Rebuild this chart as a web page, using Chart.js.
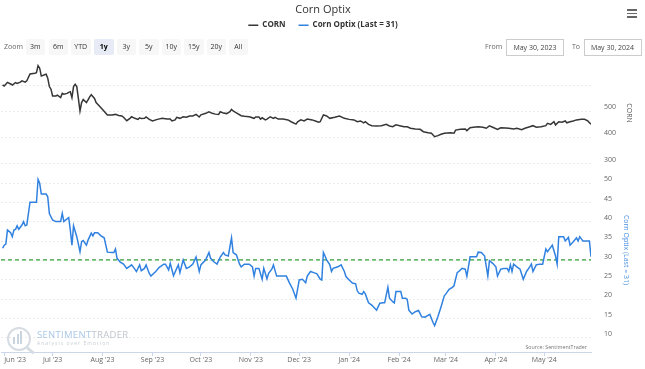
<!DOCTYPE html>
<html><head><meta charset="utf-8">
<script src="https://cdn.jsdelivr.net/npm/chart.js@4.4.1/dist/chart.umd.min.js"></script>
<style>
html,body{margin:0;padding:0;background:#fff;}
#wrap{position:relative;width:645px;height:369px;overflow:hidden;font-family:'Open Sans',sans-serif;}
#c{position:absolute;left:0;top:0;}
.btn{position:absolute;top:39px;height:16px;line-height:16px;width:19.5px;text-align:center;font-size:7px;color:#333;background:#f7f7f7;border-radius:2px;}
.btn.sel{background:#e6ebf5;font-weight:bold;color:#000;}
.lbl{position:absolute;top:39px;height:16px;line-height:16px;font-size:7px;color:#666;white-space:nowrap;}
.date{position:absolute;top:39px;height:15px;line-height:15px;width:56px;border:1px solid #ccc;font-size:7px;color:#444;text-align:center;background:#fff;white-space:nowrap;}
.bar{position:absolute;left:627px;width:10px;height:1.6px;background:#666;}
.ytitle{position:absolute;font-size:7px;transform:translate(-50%,-50%) rotate(90deg);white-space:nowrap;}
</style></head>
<body>
<div id="wrap">
<canvas id="c" width="645" height="369"></canvas>
<div class="bar" style="top:9px"></div><div class="bar" style="top:12.6px"></div><div class="bar" style="top:16.2px"></div>
<div class="lbl" style="left:4px">Zoom</div>
<div class="btn" style="left:25.5px">3m</div>
<div class="btn" style="left:48.5px">6m</div>
<div class="btn" style="left:71px">YTD</div>
<div class="btn sel" style="left:94px">1y</div>
<div class="btn" style="left:116.5px">3y</div>
<div class="btn" style="left:139px">5y</div>
<div class="btn" style="left:161.5px">10y</div>
<div class="btn" style="left:184px">15y</div>
<div class="btn" style="left:206.5px">20y</div>
<div class="btn" style="left:228.5px">All</div>
<div class="lbl" style="left:485px">From</div>
<div class="date" style="left:506px">May 30, 2023</div>
<div class="lbl" style="left:572px">To</div>
<div class="date" style="left:583.5px">May 30, 2024</div>
<div class="ytitle" style="left:629px;top:113px;color:#555">CORN</div>
<div class="ytitle" style="left:626px;top:250px;color:#4a90e2">Corn Optix (Last = 31)</div>
<div style="position:absolute;left:7px;top:327px;width:20px;height:20px;border:2.5px solid #d6dce2;border-radius:50%;"></div>
<div style="position:absolute;left:13px;top:337px;width:2px;height:7px;background:#c9d4de"></div>
<div style="position:absolute;left:16.5px;top:334px;width:2px;height:10px;background:#c9d4de"></div>
<div style="position:absolute;left:20px;top:331px;width:2px;height:13px;background:#c9d4de"></div>
<div style="position:absolute;left:26px;top:349px;width:9px;height:3px;background:#d6dce2;transform:rotate(40deg);"></div>
<div style="position:absolute;left:37px;top:328px;font-size:9.5px;letter-spacing:0.3px;white-space:nowrap;"><span style="color:#a9c8e8">SENTIMENT</span><span style="color:#bfc6cd">TRADER</span></div>
<div style="position:absolute;left:37px;top:340px;font-size:5px;letter-spacing:1.05px;color:#c8cfd6;white-space:nowrap;">Analysis over Emotion</div>
<div style="position:absolute;right:58px;top:343px;font-size:5.3px;color:#777;white-space:nowrap;">Source: SentimentTrader</div>
</div>
<script>
// Days after 2023-05-30 (x positions are dates)
const cornDays = [1,2,4,6,7,9,10,12,13,15,16,18,21,22,23,24,25,27,28,29,30,31,32,34,35,37,38,39,41,42,43,44,45,46,47,48,49,50,51,53,54,55,56,58,59,61,63,66,69,71,73,75,76,78,80,81,83,85,86,87,89,90,92,94,97,100,103,105,106,108,109,111,113,115,117,119,121,123,124,127,129,131,133,135,136,138,140,142,143,144,146,149,151,154,157,158,160,161,162,164,165,167,169,170,172,175,178,180,183,184,186,188,190,193,195,197,198,200,202,204,207,210,213,216,219,221,223,225,226,228,230,233,236,239,241,243,245,248,250,252,254,257,260,262,265,267,269,271,273,275,279,281,282,285,288,289,291,293,296,299,301,303,305,308,310,313,315,318,320,323,325,328,330,332,335,338,339,341,343,344,346,348,350,351,353,355,357,360,362,364,366];
const cornValues = [600,596,610,604,600,609,606,611,616,611,616,642,645,647,674,664,634,639,641,626,594,584,558,558,561,552,568,565,568,572,574,552,594,603,594,549,501,533,545,533,543,555,563,549,533,520,507,486,486,488,484,482,477,464,473,479,473,469,475,472,473,478,469,463,469,473,470,470,463,467,477,473,479,477,482,482,488,478,486,492,498,492,489,488,498,493,491,498,507,501,494,483,481,479,473,478,478,470,475,467,470,479,473,477,470,470,467,460,451,460,467,463,470,467,463,458,460,486,482,473,477,482,473,469,467,460,463,456,460,450,445,444,445,450,444,441,448,444,441,441,435,432,431,422,418,416,403,407,412,416,418,416,428,431,432,426,437,439,441,439,435,444,439,431,437,436,435,432,435,430,435,441,445,439,441,445,454,450,460,448,460,458,463,456,460,463,467,469,469,463,450];

const optixDays = [1,2,3,4,6,7,8,9,10,11,13,14,15,16,18,22,23,24,25,28,29,30,32,34,37,38,39,40,42,43,44,45,47,49,50,51,53,54,56,57,58,60,62,64,66,69,70,71,72,74,76,78,80,81,83,84,86,87,89,90,92,93,96,98,101,102,104,105,107,109,110,111,113,115,117,119,121,123,124,127,129,130,132,134,136,138,139,141,143,144,146,148,149,151,154,156,157,158,160,162,163,165,166,168,169,171,172,175,177,179,181,183,185,187,189,190,192,194,196,198,199,200,201,202,204,205,206,209,211,213,214,216,218,220,221,222,224,225,226,228,230,231,233,235,237,238,240,241,243,244,245,248,249,251,252,253,255,257,259,261,263,266,268,269,271,273,275,276,278,280,281,283,284,286,288,289,291,293,295,296,298,300,302,303,305,307,308,310,312,314,315,316,317,318,320,322,324,326,328,329,330,332,334,336,338,339,342,344,345,346,349,350,352,353,355,357,358,359,361,363,365,366];
const optixValues = [33.2,34.0,34.3,37.9,37.2,36.2,37.9,38.1,39.0,38.1,39.2,40.1,39.0,39.2,45.1,45.1,51.0,50.0,47.2,47.2,46.5,42.2,40.5,40.1,40.1,42.2,40.1,40.5,41.1,37.9,34.0,39.0,36.2,32.3,34.9,35.2,34.0,35.3,37.1,36.4,37.2,37.2,36.4,35.9,32.2,32.1,32.1,33.0,30.6,29.6,29.1,28.0,28.6,28.9,27.8,27.2,28.9,27.4,28.0,28.9,26.7,26.0,27.2,28.2,29.1,29.1,27.6,29.3,26.1,28.0,28.9,26.9,30.2,28.0,28.4,29.1,30.9,27.2,28.9,30.2,32.1,30.6,29.7,29.1,30.9,32.1,31.5,31.2,35.9,32.1,31.5,29.1,28.4,29.1,29.1,28.4,26.0,28.0,28.0,25.2,28.0,25.3,26.7,27.8,28.9,26.0,26.0,26.0,26.0,24.2,22.6,20.3,25.0,25.2,24.3,26.0,27.2,26.9,26.6,25.2,25.0,32.1,31.2,30.2,28.9,27.2,28.0,28.4,28.9,27.2,25.9,25.0,24.2,24.0,22.2,21.6,21.3,22.0,21.4,19.1,18.5,18.1,17.2,19.0,19.1,19.1,23.1,20.3,19.4,19.1,22.0,22.0,20.3,20.3,20.0,17.2,16.2,16.8,17.1,15.5,15.4,16.1,14.0,13.2,15.5,18.1,20.9,21.4,22.6,23.1,23.5,26.9,27.2,28.0,27.8,26.0,31.0,31.0,31.0,32.2,32.1,31.2,26.0,30.0,29.3,28.4,26.0,27.8,28.0,28.0,27.2,28.9,27.2,29.1,28.4,27.8,25.2,27.2,28.4,29.1,27.2,28.9,29.1,29.1,33.0,32.3,34.0,31.2,29.1,36.2,36.2,35.1,36.0,34.0,34.9,35.9,35.1,36.2,35.1,35.1,35.1,31.0];
const optixReference = 30.2;

const monthTickDays = [2,32,63,94,124,155,185,216,247,276,307,337,366];
const monthTickLabels = ["Jun '23","Jul '23","Aug '23","Sep '23","Oct '23","Nov '23","Dec '23","Jan '24","Feb '24","Mar '24","Apr '24","May '24",""];
const cornTickValues = [300,400,500,600];
const cornTickLabels = ['300','400','500',''];
const optixTickValues = [10,15,20,25,30,35,40,45,50];
const optixTickLabels = ['10','15','20','25','30','35','40','45','50'];

Chart.defaults.font.family = "'Open Sans', sans-serif";

const legendSpace = {
  id: 'legendSpace',
  beforeInit(chart) {
    const orig = chart.legend.fit;
    chart.legend.fit = function () { orig.bind(chart.legend)(); this.height = 51.8; };
  }
};

const yBase = (weight, min, max, vals, labels) => ({
  type: 'linear', position: 'right', stack: 'panes', stackWeight: weight,
  min, max,
  afterBuildTicks: s => { s.ticks = vals.map(v => ({value: v})); },
  afterFit: s => { s.width = 54; s.paddingTop = 0; s.paddingBottom = 0; },
  ticks: { callback: (v, i) => labels[i], padding: 13, labelOffset: -4, color: '#666', font: {size: 7}, autoSkip: false },
  grid: { color: '#ebebeb', drawTicks: false, lineWidth: 1 },
  border: { display: false, dash: [2, 2] }
});

new Chart(document.getElementById('c'), {
  type: 'line',
  data: {
    datasets: [
      { label: 'CORN', data: cornDays.map((d, i) => ({x: d, y: cornValues[i]})), yAxisID: 'yCorn',
        borderColor: '#363636', backgroundColor: '#363636', borderWidth: 1.5, pointRadius: 0, tension: 0 },
      { label: 'Corn Optix (Last = 31)', data: optixDays.map((d, i) => ({x: d, y: optixValues[i]})), yAxisID: 'yOptix',
        borderColor: '#3182e0', backgroundColor: '#3182e0', borderWidth: 1.5, pointRadius: 0, tension: 0 },
      { label: 'ref', data: [{x: 0, y: optixReference}, {x: 366, y: optixReference}], yAxisID: 'yOptix',
        borderColor: '#35a03a', borderWidth: 1.3, borderDash: [4, 3], pointRadius: 0 }
    ]
  },
  options: {
    responsive: false, animation: false, events: [],
    layout: { padding: { left: 1, right: 0, top: 0, bottom: 4.6 } },
    plugins: {
      title: { display: true, text: 'Corn Optix', color: '#333', font: {size: 11, weight: 'normal'}, padding: {top: 3, bottom: -8} },
      legend: {
        labels: { filter: item => item.datasetIndex < 2, usePointStyle: true, pointStyle: 'line', pointStyleWidth: 10,
          padding: 13, color: '#333', font: {size: 8, weight: 'bold'} }
      },
      tooltip: { enabled: false }
    },
    scales: {
      x: {
        type: 'linear', min: 0, max: 366,
        afterBuildTicks: s => { s.ticks = monthTickDays.map(v => ({value: v})); },
        afterFit: s => { s.paddingLeft = 0; s.paddingRight = 0; },
        ticks: { callback: (v, i) => monthTickLabels[i], align: 'inner', padding: 0, maxRotation: 0, autoSkip: false, color: '#666', font: {size: 7} },
        grid: { drawOnChartArea: false, drawTicks: true, tickLength: 4, tickColor: ctx => (ctx.tick && ctx.tick.value === 366) ? 'rgba(0,0,0,0)' : '#ccd6eb' },
        border: { color: '#ccd6eb' }
      },
      yCorn: yBase(112, 268.4, 695.3, cornTickValues, cornTickLabels),
      yOptix: yBase(180, 6.38, 52.92, optixTickValues, optixTickLabels)
    }
  },
  plugins: [legendSpace]
});
</script>
</body></html>
